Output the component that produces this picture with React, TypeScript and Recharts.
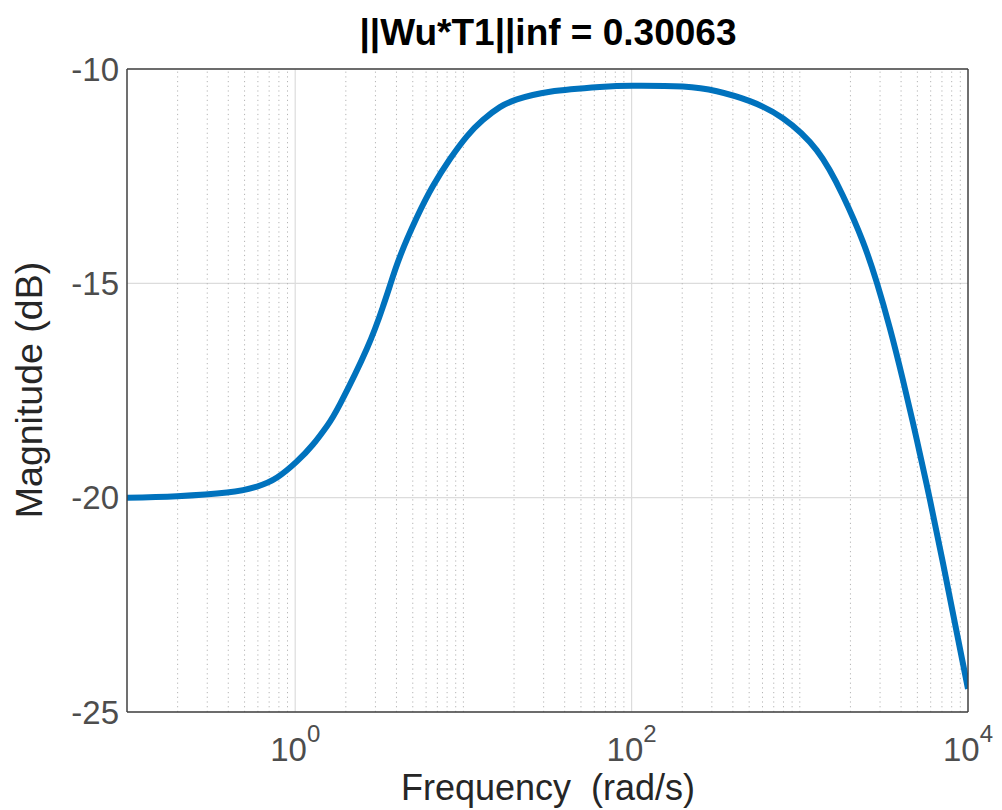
import { LineChart, Line, XAxis, YAxis, CartesianGrid, ReferenceLine } from "recharts"

// frequency (rad/s) and magnitude (dB)
const freq = [
  0.1, 0.198, 0.393, 0.593, 0.78, 1.02, 1.275, 1.55, 1.85, 2.67, 3.32, 3.66, 4.2, 5.29, 6.59,
  8.32, 10.49, 13.05, 16.48, 20.8, 32.7, 64.7, 101.6, 201.6, 321, 505, 793, 1262, 1802, 2368,
  2868, 3429, 4095, 4963, 5932, 7087, 8577, 10000,
]
const magnitude = [
  -20.0, -19.965, -19.88, -19.74, -19.53, -19.16, -18.76, -18.32, -17.81, -16.52, -15.55, -15.05,
  -14.37, -13.46, -12.73, -12.1, -11.57, -11.19, -10.89, -10.71, -10.53, -10.42, -10.39, -10.41,
  -10.52, -10.75, -11.15, -11.9, -12.95, -14.02, -14.98, -16.04, -17.24, -18.65, -20.04, -21.51,
  -23.15, -24.46,
]

const xTicks = [1, 100, 10000]
const yTicks = [-25, -20, -15, -10]
const decades = [0.1, 1, 10, 100, 1000]
const minorSteps = [2, 3, 4, 5, 6, 7, 8, 9]

const minorX = decades.flatMap((d) => minorSteps.map((k) => +(k * d).toPrecision(3)))
const minorGrid = [...minorX, 10, 1000]
const allXTicks = [...minorGrid, 1, 100].sort((a, b) => a - b)

const data = freq.map((f, i) => ({ f, mag: magnitude[i] }))

const FONT = '"Liberation Sans", Arial, Helvetica, sans-serif'
const AXIS = "#404040"
const TICKTXT = "#4d4d4d"

function DecadeTick(props: any) {
  const { x, y, payload } = props
  const exp = Math.round(Math.log10(payload.value))
  return (
    <text x={x} y={y + 41} textAnchor="middle" fill={TICKTXT} fontFamily={FONT} fontSize={33}>
      10
      <tspan dy={-19} fontSize={24}>
        {exp}
      </tspan>
    </text>
  )
}

const NoLabel = () => <g />

export default function App() {
  return (
    <div style={{ position: "absolute", left: 0, top: 0, width: 1002, height: 810, background: "#fff" }}>
      <LineChart width={1002} height={810} data={data} margin={{ top: 69, right: 34, bottom: 0, left: 0 }}>
        <CartesianGrid xAxisId="x" yAxisId="y" vertical={false} stroke="#dcdcdc" strokeWidth={1.2} />
        {minorGrid.map((v) => (
          <ReferenceLine key={`m${v}`} xAxisId="x" yAxisId="y" x={v} stroke="#b4b4b4" strokeDasharray="1.2 3.5" />
        ))}
        {[1, 100].map((v) => (
          <ReferenceLine key={`M${v}`} xAxisId="x" yAxisId="y" x={v} stroke="#dcdcdc" strokeWidth={1.2} />
        ))}
        <XAxis
          xAxisId="x"
          dataKey="f"
          type="number"
          scale="log"
          domain={[0.1, 10000]}
          ticks={xTicks}
          interval={0}
          allowDataOverflow
          height={98}
          tickLine={false}
          axisLine={{ stroke: AXIS, strokeWidth: 1.5 }}
          tick={<DecadeTick />}
        />
        <XAxis
          xAxisId="xb"
          type="number"
          scale="log"
          domain={[0.1, 10000]}
          ticks={allXTicks}
          interval={0}
          allowDataOverflow
          mirror
          tickSize={6}
          axisLine={false}
          tickLine={{ stroke: AXIS }}
          tick={NoLabel}
        />
        <XAxis
          xAxisId="xt"
          orientation="top"
          type="number"
          scale="log"
          domain={[0.1, 10000]}
          ticks={allXTicks}
          interval={0}
          allowDataOverflow
          mirror
          tickSize={6}
          axisLine={{ stroke: AXIS, strokeWidth: 1.5 }}
          tickLine={{ stroke: AXIS }}
          tick={NoLabel}
        />
        <YAxis
          yAxisId="y"
          type="number"
          domain={[-25, -10]}
          ticks={yTicks}
          interval={0}
          allowDataOverflow
          width={127}
          tickLine={false}
          axisLine={{ stroke: AXIS, strokeWidth: 1.5 }}
          tick={{ fill: TICKTXT, fontSize: 33, fontFamily: FONT }}
        />
        <YAxis
          yAxisId="yl"
          type="number"
          domain={[-25, -10]}
          ticks={yTicks}
          interval={0}
          mirror
          tickSize={6}
          axisLine={false}
          tickLine={{ stroke: AXIS }}
          tick={NoLabel}
        />
        <YAxis
          yAxisId="yr"
          orientation="right"
          type="number"
          domain={[-25, -10]}
          ticks={yTicks}
          interval={0}
          mirror
          tickSize={6}
          axisLine={{ stroke: AXIS, strokeWidth: 1.5 }}
          tickLine={{ stroke: AXIS }}
          tick={NoLabel}
        />
        <Line
          xAxisId="x"
          yAxisId="y"
          type="natural"
          dataKey="mag"
          stroke="#0072BD"
          strokeWidth={6}
          dot={false}
          isAnimationActive={false}
        />
      </LineChart>
      <svg width={1002} height={810} style={{ position: "absolute", left: 0, top: 0, pointerEvents: "none" }}>
        <text x={548} y={45} textAnchor="middle" fontFamily={FONT} fontSize={37} fontWeight="bold" fill="#000">
          ||Wu*T1||inf = 0.30063
        </text>
        <text
          x={548}
          y={800}
          textAnchor="middle"
          fontFamily={FONT}
          fontSize={36}
          fill="#262626"
          style={{ whiteSpace: "pre" }}
        >
          Frequency  (rad/s)
        </text>
        <text
          transform="translate(42,390) rotate(-90)"
          textAnchor="middle"
          fontFamily={FONT}
          fontSize={37.5}
          fill="#262626"
        >
          Magnitude (dB)
        </text>
      </svg>
    </div>
  )
}
